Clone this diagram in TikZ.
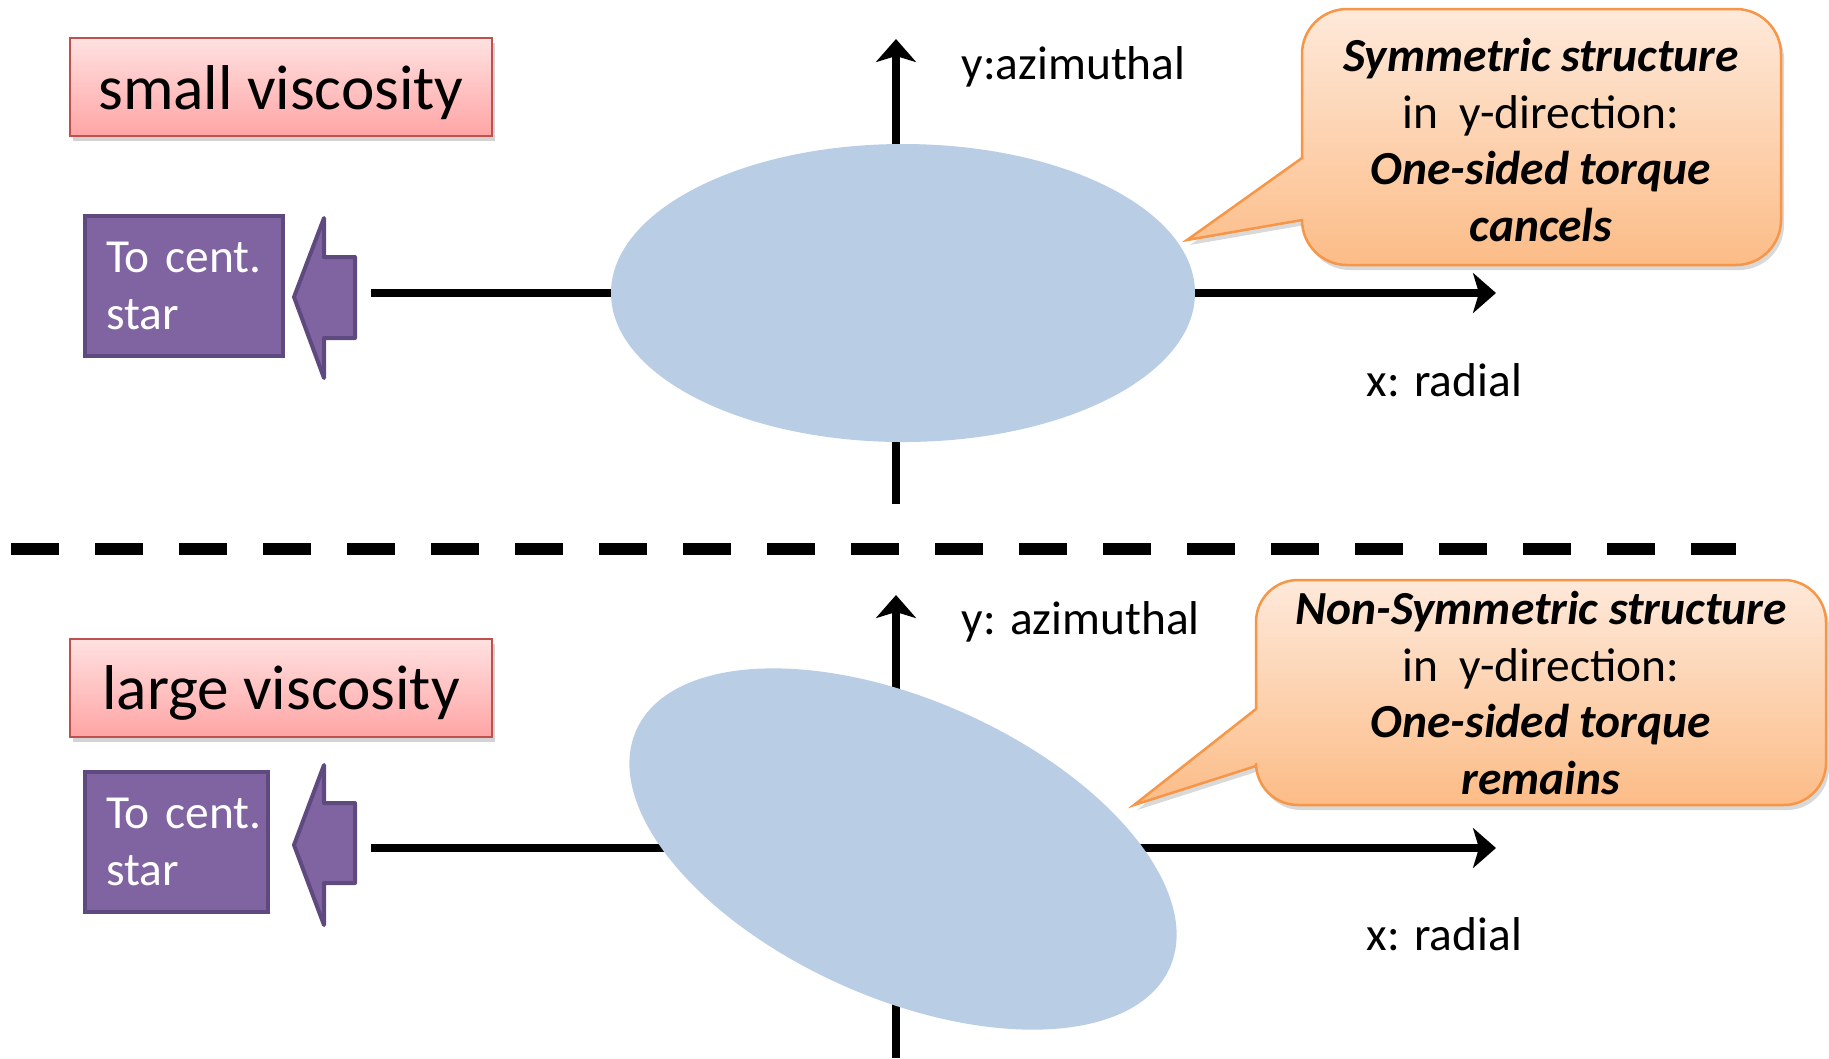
\documentclass[tikz,border=0pt]{standalone}
\usepackage{fontspec}
\setmainfont{Carlito}
\usepackage{xcolor}
\usepackage{tikz}
\usetikzlibrary{arrows.meta,shapes.geometric,shadows}

\definecolor{discblue}{HTML}{B9CDE5}
\definecolor{tagline}{HTML}{C0504D}
\definecolor{tagtop}{HTML}{FFE1E1}
\definecolor{tagbot}{HTML}{FFA5A5}
\definecolor{starfill}{HTML}{8064A2}
\definecolor{starline}{HTML}{5E4A7E}
\definecolor{noteline}{HTML}{F79646}
\definecolor{notetop}{HTML}{FEE9DA}
\definecolor{notebot}{HTML}{FCBC87}

\begin{document}
\begin{tikzpicture}[
		axis/.style={line width=0.08cm, -{Stealth[length=0.23cm, width=0.40cm, inset=0.06cm]}},
		disc/.style={ellipse, fill=discblue, minimum width=5.84cm, minimum height=2.98cm, inner sep=0pt},
		tag/.style={draw=tagline, line width=0.02cm, top color=tagtop, bottom color=tagbot,
			minimum width=4.22cm, minimum height=0.98cm, text height=16.3pt, text depth=3.7pt,
			font=\fontsize{18}{22}\selectfont,
			drop shadow={opacity=0.35, shadow xshift=0.03cm, shadow yshift=-0.05cm}},
		starbox/.style={draw=starline, fill=starfill, line width=0.04cm, text=white, align=left,
			minimum height=1.4cm, inner xsep=0.21cm, anchor=west, font=\fontsize{13.5}{16.2}\selectfont},
		pointer/.style={draw=starline, fill=starfill, line width=0.04cm, line join=round},
		bubble/.style={draw=noteline, line width=0.025cm, top color=notetop, bottom color=notebot,
			drop shadow={opacity=0.3, shadow xshift=0.03cm, shadow yshift=-0.05cm}},
		note/.style={align=center, font=\fontsize{13.5}{16.2}\selectfont},
		axlabel/.style={anchor=west, inner sep=0pt, font=\fontsize{13.5}{16.2}\selectfont},
		sep/.style={line width=0.12cm, dash pattern=on 0.48cm off 0.36cm}
	]
	\useasboundingbox (0,0) rectangle (18.29,-10.58);
	
	%Small viscosity
	\coordinate (xA0) at (3.71,-2.93);
	\coordinate (xA1) at (14.96,-2.93);
	\coordinate (yA0) at (8.96,-5.04);
	\coordinate (yA1) at (8.96,-0.39);
	\draw[axis] (xA0) -- (xA1);
	\draw[axis] (yA0) -- (yA1);
	\node[disc] (discA) at (9.03,-2.93) {};
	\node[axlabel] (yLabA) at (9.61,-0.67) {y:azimuthal};
	\node[axlabel] (xLabA) at (13.66,-3.80) {x: radial};
	
	\node[tag] (tagA) at (2.81,-0.87) {small viscosity};
	\node[starbox, text width=1.56cm] (starA) at (0.83,-2.86) {To~cent.\\star};
	\filldraw[pointer] (2.94,-2.97) -- (3.24,-2.18) -- (3.24,-2.57) -- (3.55,-2.57)
		-- (3.55,-3.38) -- (3.24,-3.38) -- (3.24,-3.78) -- cycle;
	
	%Callout
	\draw[bubble] (11.87,-2.40) -- (13.02,-1.58) -- (13.02,-0.54)
		arc[start angle=180, end angle=90, radius=0.45] -- (17.36,-0.09)
		arc[start angle=90, end angle=0, radius=0.45] -- (17.81,-2.20)
		arc[start angle=0, end angle=-90, radius=0.45] -- (13.47,-2.65)
		arc[start angle=-90, end angle=-180, radius=0.45] -- cycle;
	\node[note] (noteA) at (15.41,-1.40) {\textbf{\textit{Symmetric structure}}\\in\ \ y-direction:\\
		\textbf{\textit{One-sided torque}}\\\textbf{\textit{cancels}}};
	
	%Separator
	\coordinate (sep0) at (0.11,-5.485);
	\coordinate (sep1) at (17.36,-5.485);
	\draw[sep] (sep0) -- (sep1);
	
	%Large viscosity
	\coordinate (xB0) at (3.71,-8.48);
	\coordinate (xB1) at (14.96,-8.48);
	\coordinate (yB0) at (8.96,-10.58);
	\coordinate (yB1) at (8.96,-5.95);
	\draw[axis] (xB0) -- (xB1);
	\draw[axis] (yB0) -- (yB1);
	\node[disc, rotate=-24] (discB) at (9.03,-8.49) {};
	\node[axlabel] (yLabB) at (9.61,-6.22) {y: azimuthal};
	\node[axlabel] (xLabB) at (13.66,-9.34) {x: radial};
	
	\node[tag] (tagB) at (2.81,-6.875) {large viscosity};
	\node[starbox, text width=1.41cm] (starB) at (0.83,-8.42) {To~cent.\\star};
	\filldraw[pointer] (2.94,-8.45) -- (3.24,-7.65) -- (3.24,-8.03) -- (3.55,-8.03)
		-- (3.55,-8.83) -- (3.24,-8.83) -- (3.24,-9.25) -- cycle;
	
	%Callout
	\draw[bubble] (11.34,-8.05) -- (12.56,-7.09) -- (12.56,-6.22)
		arc[start angle=180, end angle=90, radius=0.42] -- (17.84,-5.80)
		arc[start angle=90, end angle=0, radius=0.42] -- (18.26,-7.63)
		arc[start angle=0, end angle=-90, radius=0.42] -- (12.98,-8.05)
		arc[start angle=-90, end angle=-180, radius=0.42] -- (12.56,-7.66) -- cycle;
	\node[note] (noteB) at (15.41,-6.93) {\textbf{\textit{Non-Symmetric structure}}\\in\ \ y-direction:\\
		\textbf{\textit{One-sided torque}}\\\textbf{\textit{remains}}};
\end{tikzpicture}
\end{document}
